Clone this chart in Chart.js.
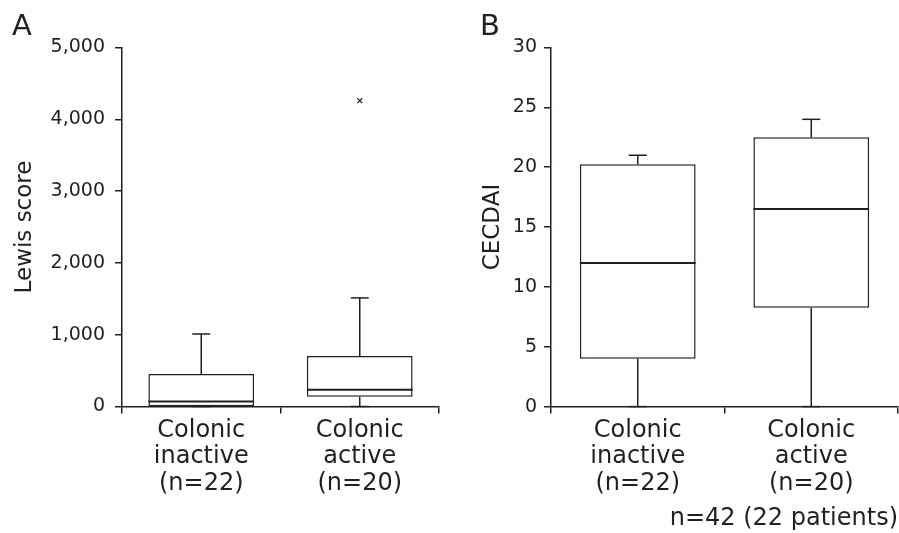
<!DOCTYPE html>
<html>
<head>
<meta charset="utf-8">
<title>Lewis score and CECDAI by colonic activity</title>
<script src="https://cdn.jsdelivr.net/npm/chart.js@4.4.1/dist/chart.umd.min.js"></script>
<style>
  html, body { margin: 0; padding: 0; background: #fff; }
  #wrap { position: relative; width: 899px; height: 533px; }
  #wrap canvas { position: absolute; top: 0; }
  #panelA { left: 0; }
  #panelB { left: 450px; }
</style>
</head>
<body>
<div id="wrap">
  <canvas id="panelA" width="450" height="533"></canvas>
  <canvas id="panelB" width="449" height="533"></canvas>
</div>
<script>
// categories shared by both panels
const groups = [['Colonic', 'inactive', '(n=22)'], ['Colonic', 'active', '(n=20)']];

// panel A: Lewis score
const lewisMin = [0, 0];
const lewisQ1 = [5, 135];
const lewisMedian = [70, 232];
const lewisQ3 = [452, 702];
const lewisMax = [1010, 1512];
const lewisOutliers = [null, 4260];
const lewisTicks = [0, 1000, 2000, 3000, 4000, 5000];

// panel B: CECDAI
const cecdaiMin = [0, 0];
const cecdaiQ1 = [4, 8.25];
const cecdaiMedian = [12, 16.5];
const cecdaiQ3 = [20.25, 22.5];
const cecdaiMax = [21, 24];
const cecdaiTicks = [0, 5, 10, 15, 20, 25, 30];

const INK = '#231f20';
Chart.defaults.font.family = "'DejaVu Sans', Verdana, sans-serif";
Chart.defaults.color = INK;

/**
 * Draws median, whiskers and caps on top of the q1-q3 bars.
 */
const boxPlot = {
    id: 'boxPlot',
    afterDatasetsDraw(chart, args, opts) {
        const ctx = chart.ctx;
        const x = chart.scales.x;
        const y = chart.scales.y;
        const meta = chart.getDatasetMeta(0);
        const seg = (x1, y1, x2, y2) => {
            ctx.beginPath();
            ctx.moveTo(x1, y1);
            ctx.lineTo(x2, y2);
            ctx.stroke();
        };
        ctx.save();
        ctx.strokeStyle = INK;
        meta.data.forEach((bar, i) => {
            const cx = x.getPixelForValue(i);
            const half = bar.width / 2;
            const cap = 9;
            ctx.lineWidth = 1.5;
            seg(cx, y.getPixelForValue(opts.q3[i]), cx, y.getPixelForValue(opts.max[i]));
            seg(cx, y.getPixelForValue(opts.q1[i]), cx, y.getPixelForValue(opts.min[i]));
            seg(cx - cap, y.getPixelForValue(opts.max[i]), cx + cap, y.getPixelForValue(opts.max[i]));
            seg(cx - cap, y.getPixelForValue(opts.min[i]), cx + cap, y.getPixelForValue(opts.min[i]));
            ctx.lineWidth = 2;
            seg(cx - half, y.getPixelForValue(opts.median[i]), cx + half, y.getPixelForValue(opts.median[i]));
        });
        ctx.restore();
    },
};

const axisLine = {color: INK, width: 1.5};

const makePanel = (canvas, cfg) => {
    const datasets = [{
        type: 'bar',
        data: cfg.q1.map((q, i) => [q, cfg.q3[i]]),
        backgroundColor: '#ffffff',
        borderColor: INK,
        borderWidth: 1.5,
        borderSkipped: false,
        barPercentage: 0.667,
        categoryPercentage: 1,
    }];
    if (cfg.outliers) {
        datasets.push({
            type: 'line',
            data: cfg.outliers,
            showLine: false,
            pointStyle: 'crossRot',
            pointRadius: 3.5,
            pointBorderColor: INK,
            pointBorderWidth: 1.3,
        });
    }
    return new Chart(canvas, {
        type: 'bar',
        data: {labels: groups, datasets},
        options: {
            responsive: false,
            animation: false,
            events: [],
            layout: {padding: cfg.padding},
            plugins: {
                legend: {display: false},
                tooltip: {enabled: false},
                title: {
                    display: true,
                    text: cfg.letter,
                    align: 'start',
                    color: INK,
                    font: {size: 29, weight: 'normal', lineHeight: 1.2},
                    padding: {top: 10, bottom: 2.7},
                },
                subtitle: {
                    display: !!cfg.note,
                    text: cfg.note || '',
                    position: 'bottom',
                    align: 'end',
                    color: INK,
                    font: {size: 24, weight: 'normal', lineHeight: 1.1},
                    padding: {top: 0, bottom: 1},
                },
                boxPlot: {min: cfg.min, q1: cfg.q1, median: cfg.median, q3: cfg.q3, max: cfg.max},
            },
            scales: {
                x: {
                    offset: true,
                    grid: {offset: true, drawOnChartArea: false, tickLength: 7, color: INK, lineWidth: 1.5},
                    border: axisLine,
                    ticks: {font: {size: 24, lineHeight: 1.1}, padding: 4, maxRotation: 0, autoSkip: false},
                    afterFit: (scale) => { scale.height = cfg.xHeight; },
                },
                y: {
                    min: cfg.ticks[0],
                    max: cfg.ticks[cfg.ticks.length - 1],
                    afterBuildTicks: (scale) => { scale.ticks = cfg.ticks.map((v) => ({value: v})); },
                    grid: {drawOnChartArea: false, tickLength: 7, color: INK, lineWidth: 1.5},
                    border: axisLine,
                    ticks: {
                        font: {size: 19},
                        padding: cfg.tickPad,
                        callback: (v) => v.toLocaleString('en-US'),
                    },
                    title: {
                        display: true,
                        text: cfg.yTitle,
                        font: {size: 23, lineHeight: 1},
                        padding: {top: 2, bottom: 0},
                    },
                    afterFit: (scale) => { scale.width = cfg.yWidth; },
                },
            },
        },
        plugins: [boxPlot],
    });
};

makePanel(document.getElementById('panelA'), {
    letter: 'A',
    yTitle: 'Lewis score',
    ticks: lewisTicks,
    min: lewisMin, q1: lewisQ1, median: lewisMedian, q3: lewisQ3, max: lewisMax,
    outliers: lewisOutliers,
    padding: {left: 12, right: 11, top: 0, bottom: 0},
    yWidth: 110,
    xHeight: 126.5,
    tickPad: 10,
});

makePanel(document.getElementById('panelB'), {
    letter: 'B',
    yTitle: 'CECDAI',
    ticks: cecdaiTicks,
    min: cecdaiMin, q1: cecdaiQ1, median: cecdaiMedian, q3: cecdaiQ3, max: cecdaiMax,
    note: 'n=42 (22 patients)',
    padding: {left: 30, right: 1, top: 0, bottom: 0},
    yWidth: 71,
    xHeight: 99,
    tickPad: 7,
});
</script>
</body>
</html>
